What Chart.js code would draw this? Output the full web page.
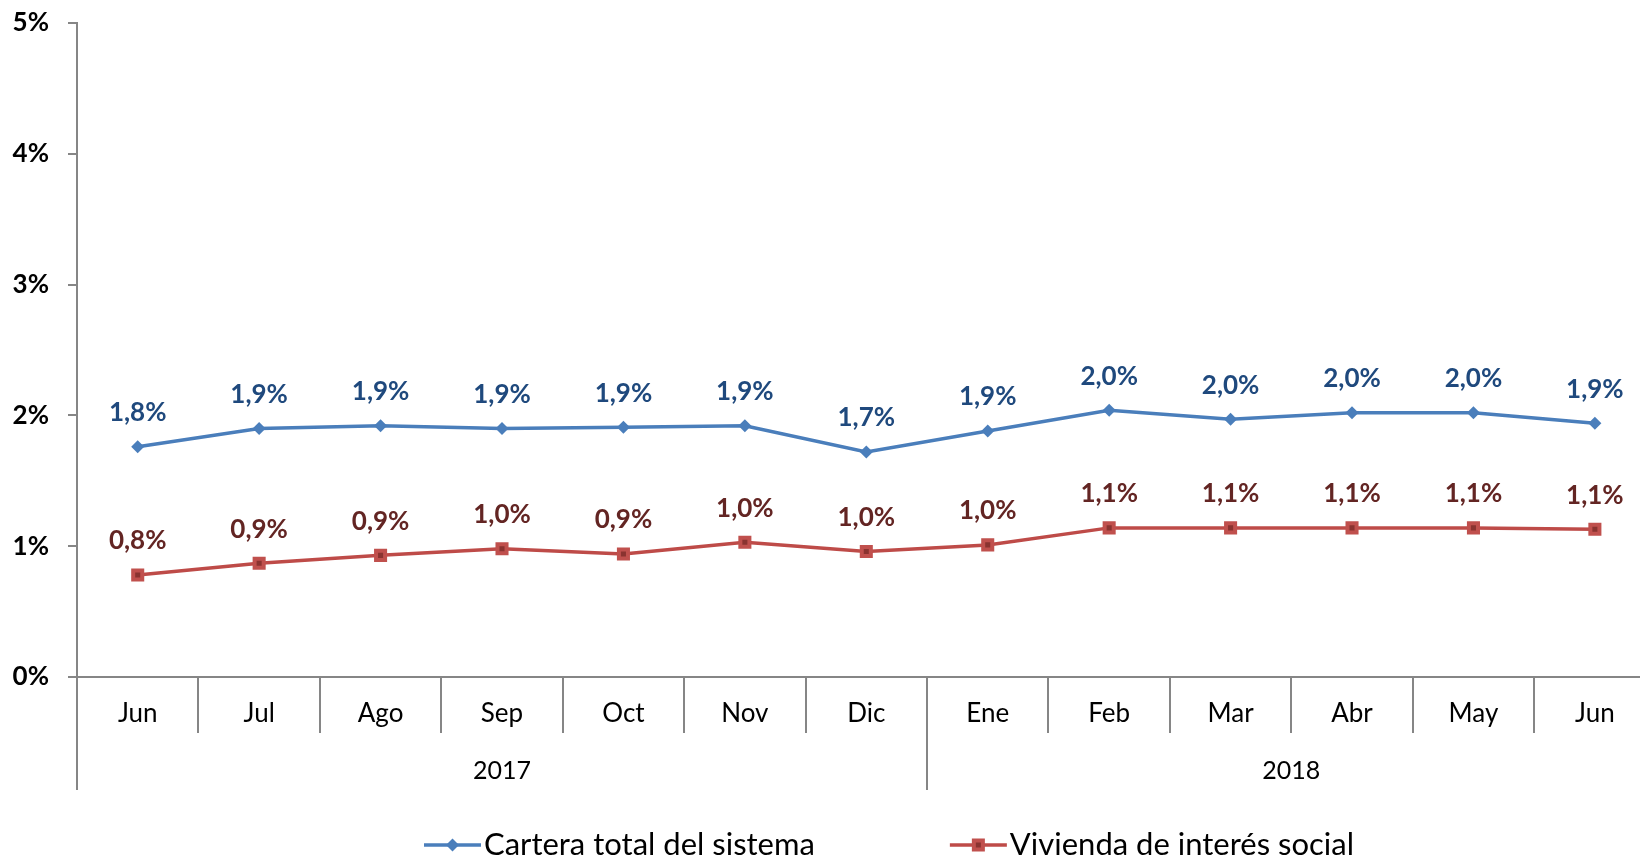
<!DOCTYPE html>
<html><head><meta charset="utf-8">
<script src="https://cdn.jsdelivr.net/npm/chart.js@4.4.1/dist/chart.umd.min.js"></script>
<style>html,body{margin:0;padding:0;background:#fff;overflow:hidden}#wrap{width:1666px;height:858px}</style>
</head><body><div id="wrap"><canvas id="c" width="1666" height="858"></canvas></div>
<script>
const months = ['Jun','Jul','Ago','Sep','Oct','Nov','Dic','Ene','Feb','Mar','Abr','May','Jun'];
const yearLabels = ['2017','2018'];
const yearFirstIndex = [0,7];
const yearLastIndex = [6,12];
const carteraTotal = [1.76,1.90,1.92,1.90,1.91,1.92,1.72,1.88,2.04,1.97,2.02,2.02,1.94];
const viviendaVIS = [0.78,0.87,0.93,0.98,0.94,1.03,0.96,1.01,1.14,1.14,1.14,1.14,1.13];
const yTickMax = 5;
const seriesNames = ['Cartera total del sistema','Vivienda de interés social'];

const FONT = 'Lato';
const axisColor = '#868686';
const blueLine = '#4A7EBB', redLine = '#BE4B48';
const blueText = '#1F497D', redText = '#632523';

const decor = {
  id:'decor',
  afterDatasetsDraw(chart){
    const ctx = chart.ctx;
    ctx.save();
    ctx.font = 'bold 26px ' + FONT;
    ctx.textAlign = 'center';
    ctx.textBaseline = 'middle';
    chart.data.datasets.forEach((ds, di) => {
      const meta = chart.getDatasetMeta(di);
      ctx.fillStyle = ds.labelColor;
      meta.data.forEach((pt, i) => {
        ctx.fillText(ds.data[i].toFixed(1).replace('.', ',') + '%', pt.x, pt.y - 34);
      });
    });
    ctx.restore();
  },
  afterDraw(chart){
    const ctx = chart.ctx, x = chart.scales.x, ca = chart.chartArea;
    const step = x.getPixelForValue(1) - x.getPixelForValue(0);
    ctx.save();
    ctx.strokeStyle = axisColor; ctx.lineWidth = 2;
    const longBottom = ca.bottom + 113;
    yearFirstIndex.forEach(i => {
      const px = Math.round(x.getPixelForValue(i) - step/2);
      ctx.beginPath(); ctx.moveTo(px, ca.bottom); ctx.lineTo(px, longBottom); ctx.stroke();
    });
    ctx.fillStyle = '#000';
    ctx.font = '25px ' + FONT;
    ctx.textAlign = 'center'; ctx.textBaseline = 'middle';
    yearLabels.forEach((lab, k) => {
      const cx = (x.getPixelForValue(yearFirstIndex[k]) + x.getPixelForValue(yearLastIndex[k])) / 2;
      ctx.fillText(lab, cx, ca.bottom + 94);
    });
    // legend
    const ly = 845;
    let lx = 424;
    chart.data.datasets.forEach((ds, di) => {
      ctx.strokeStyle = ds.borderColor; ctx.lineWidth = 3.5;
      ctx.beginPath(); ctx.moveTo(lx, ly); ctx.lineTo(lx + 57, ly); ctx.stroke();
      const mx = lx + 28.5;
      if (ds.pointStyle === 'rectRot') {
        ctx.fillStyle = ds.borderColor;
        ctx.beginPath(); ctx.moveTo(mx-6.5, ly); ctx.lineTo(mx, ly-6.5); ctx.lineTo(mx+6.5, ly); ctx.lineTo(mx, ly+6.5); ctx.closePath(); ctx.fill();
      } else {
        ctx.fillStyle = ds.pointBackgroundColor; ctx.strokeStyle = ds.pointBorderColor; ctx.lineWidth = 4;
        ctx.fillRect(mx-4.5, ly-4.5, 9, 9); ctx.strokeRect(mx-4.5, ly-4.5, 9, 9);
      }
      ctx.fillStyle = '#000';
      ctx.font = '31px ' + FONT;
      ctx.textAlign = 'left'; ctx.textBaseline = 'middle';
      ctx.fillText(ds.label, lx + 60, ly);
      lx += 60 + ctx.measureText(ds.label).width + 135;
    });
    ctx.restore();
  }
};

new Chart(document.getElementById('c'), {
  type: 'line',
  data: {
    labels: months,
    datasets: [
      { label: seriesNames[0], data: carteraTotal, borderColor: blueLine, backgroundColor: blueLine,
        borderWidth: 3.5, pointStyle: 'rectRot', pointRadius: 6.5, pointBackgroundColor: blueLine,
        pointBorderColor: blueLine, pointBorderWidth: 0, tension: 0, labelColor: blueText },
      { label: seriesNames[1], data: viviendaVIS, borderColor: redLine, backgroundColor: redLine,
        borderWidth: 3.5, pointStyle: 'rect', pointRadius: 6.4, pointBackgroundColor: '#8A3330',
        pointBorderColor: '#C0504D', pointBorderWidth: 4, tension: 0, labelColor: redText }
    ]
  },
  options: {
    responsive: false,
    animation: false,
    devicePixelRatio: 1,
    layout: { padding: { top: 23, right: 4, left: 0, bottom: 0 } },
    plugins: { legend: { display: false }, tooltip: { enabled: false } },
    scales: {
      x: {
        offset: true,
        afterFit(s){ s.height = 858 - 677; },
        border: { color: axisColor, width: 2 },
        grid: { offset: true, drawOnChartArea: false, drawTicks: true, tickLength: 56, color: axisColor, lineWidth: 2 },
        ticks: { color: '#000', font: { family: FONT, size: 26 }, padding: -35, maxRotation: 0, autoSkip: false }
      },
      y: {
        min: 0, max: yTickMax,
        afterFit(s){ s.width = 77; s.paddingTop = 0; s.paddingBottom = 0; },
        border: { color: axisColor, width: 2 },
        grid: { drawOnChartArea: false, drawTicks: true, tickLength: 9, color: axisColor, lineWidth: 2 },
        ticks: { stepSize: 1, color: '#000', font: { family: FONT, size: 26, weight: 'bold' }, padding: 19,
                 callback: v => v + '%' }
      }
    }
  },
  plugins: [decor]
});
</script></body></html>
